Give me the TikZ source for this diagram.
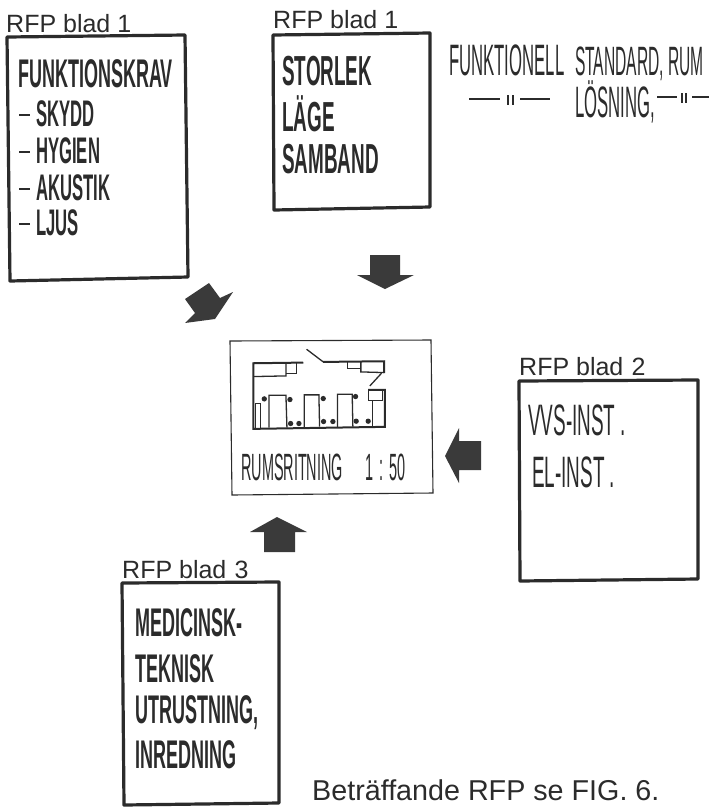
\documentclass[tikz,border=0pt]{standalone}
\usepackage{fontspec}
\setmainfont{Liberation Sans}
\newfontfamily\handbold[FakeStretch=0.45]{Liberation Sans}
\newfontfamily\handmid[FakeStretch=0.43]{Liberation Sans}
\newfontfamily\handthin[FakeStretch=0.38]{Liberation Sans}
\usepackage{xcolor}
\usetikzlibrary{calc,positioning}
\definecolor{ink}{HTML}{2b2b2b}
\definecolor{inkfill}{HTML}{3a3a3a}
\tikzset{
  sheet/.style={draw=ink, line width=3.2pt, line join=round},
  sheetlabel/.style={ink, anchor=base west, inner sep=0pt, font=\fontsize{25}{25}\selectfont},
  hand/.style={ink, anchor=base west, inner sep=0pt, font=\handthin\fontsize{#1}{#1}\selectfont},
  handvvs/.style={ink, anchor=base west, inner sep=0pt, font=\handmid\fontsize{44}{44}\selectfont},
  handb/.style={ink, anchor=base west, inner sep=0pt, font=\handbold\bfseries\fontsize{#1}{#1}\selectfont},
  blockarrow/.style={fill=inkfill, draw=none},
  wall/.style={ink, line width=1.3pt},
  fixture/.style={fill=ink, draw=none}
}
\begin{document}
\begin{tikzpicture}[x=1pt,y=-1pt]
  \useasboundingbox (0,0) rectangle (712,807);
  % sheet 1, left
  \draw[sheet] (7,37) -- (185,35) -- (188,277) -- (10,281) -- cycle;
  \node[sheetlabel] (labelA) at (6,32) {RFP blad 1};
  \node[handb=40] (kravtitle) at (18,87) {FUNKTIONSKRAV};
  \foreach \i/\txt/\yy in {a/SKYDD/126, b/HYGIEN/163, c/AKUSTIK/200, d/LJUS/235} {
    \node[handb=37] (krav\i) at (36,\yy) {\txt};
    \draw[ink, line width=2pt] (19,\yy-11) -- (30,\yy-11);
  }
  % sheet 1, middle
  \draw[sheet] (273,35) -- (430,33) -- (430,207) -- (274,210) -- cycle;
  \node[sheetlabel] (labelB) at (273,28) {RFP blad 1};
  \foreach \i/\txt/\yy in {a/STORLEK/85, b/LÄGE/131, c/SAMBAND/173} {
    \node[handb=42] (rum\i) at (282,\yy) {\txt};
  }
  % free text
  \node[hand=44] (funktionell) at (449,75) {FUNKTIONELL};
  \node[hand=41] (standard) at (575,75) {STANDARD, RUM};
  \node[hand=44] (losning) at (575,117) {LÖSNING,};
  \coordinate (d1a) at (469,99);
  \coordinate (d1b) at (500,99);
  \coordinate (d1c) at (520,99);
  \coordinate (d1d) at (550,99);
  \coordinate (d2a) at (657,97);
  \coordinate (d2b) at (677,97);
  \coordinate (d2c) at (692,97);
  \coordinate (d2d) at (709,97);
  \draw[ink, line width=1.3pt] (d1a) -- (d1b) (d1c) -- (d1d) (d2a) -- (d2b) (d2c) -- (d2d);
  \draw[ink, line width=1.1pt] (508,95) -- (508,105) (513,95) -- (513,105)
                               (682,93) -- (682,103) (686,93) -- (686,103);
  % drawing in the middle
  \draw[ink, line width=1.1pt] (230,341) -- (431,340) -- (433,493) -- (232,495) -- cycle;
  \begin{scope}[shift={(225,280)},x=0.333pt,y=-0.333pt]
    \draw[wall, line width=2pt] (235,248) -- (85,250) -- (85,447) -- (480,441) -- (480,330) -- (430,330);
    \draw[wall, line width=2pt] (295,246) -- (478,244) -- (478,280);
    \draw[wall] (245,208) -- (295,246);
    \draw[wall] (435,318) -- (470,280);
    \draw[wall] (85,290) -- (183,288) -- (183,250);
    \draw[wall] (183,280) -- (215,280) -- (215,250);
    \draw[wall] (408,246) -- (408,276) -- (478,278);
    \draw[wall] (368,246) -- (368,266) -- (408,266);
    \draw[wall] (430,330) rectangle (472,362);
    \draw[wall] (443,362) -- (443,441);
    \draw[wall] (92,445) -- (92,370) -- (107,370) -- (107,445);
    \draw[wall] (132,443) -- (132,346) -- (183,346) -- (186,443);
    \draw[wall] (238,443) -- (238,345) -- (282,345) -- (284,440);
    \draw[wall] (338,441) -- (338,343) -- (382,343) -- (384,440);
    \foreach \px/\py in {118/357,195/359,197/431,222/431,295/356,296/425,324/425,392/350,394/424,430/424} {
      \fill[fixture] (\px,\py) circle (8);
    }
  \end{scope}
  \node[hand=38] (title) at (241,480) {RUMSRITNING};
  \node[hand=38] (titlescale) at (365,480) {1\,:\,50};
  % sheet 2
  \draw[sheet] (519,381) -- (698,380) -- (698,579) -- (520,581) -- cycle;
  \node[sheetlabel] (labelC) at (519,375) {RFP blad\,\,2};
  \node[handvvs] (vvs) at (528,435) {VVS-INST\ .};
  \node[handvvs] (el) at (532,487) {EL-INST\ .};
  % sheet 3
  \draw[sheet] (122,583) -- (279,582) -- (279,803) -- (124,805) -- cycle;
  \node[sheetlabel] (labelD) at (122,578) {RFP blad\,\,3};
  \foreach \i/\txt/\yy in {a/MEDICINSK-/636, b/TEKNISK/682, c/{UTRUSTNING,}/723, d/INREDNING/768} {
    \node[handb=40] (med\i) at (135,\yy) {\txt};
  }
  \node[ink, anchor=base west, inner sep=0pt, font=\fontsize{28.7}{29}\selectfont] (note) at (312,800) {Beträffande RFP se FIG. 6.};
  % block arrows
  \fill[blockarrow] (370,255) -- (400,255) -- (400,275) -- (414,275) -- (385,289) -- (357,275) -- (370,275) -- cycle;
  \fill[blockarrow] (481,441) -- (481,470) -- (459,470) -- (459,483) -- (445,456) -- (459,428) -- (459,441) -- cycle;
  \fill[blockarrow] (264,552) -- (295,552) -- (295,532) -- (307,532) -- (277,517) -- (250,532) -- (264,532) -- cycle;
  \fill[blockarrow] (209,283) -- (185,299) -- (195,313) -- (185,323) -- (215,319) -- (233,292) -- (220,298) -- cycle;
\end{tikzpicture}
\end{document}
